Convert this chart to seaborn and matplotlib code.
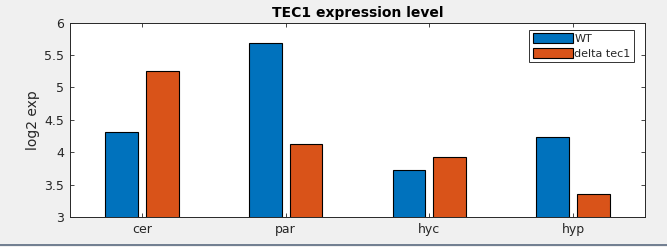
import matplotlib
matplotlib.use("Agg")
import matplotlib.pyplot as plt
import seaborn as sns
import pandas as pd
from matplotlib.lines import Line2D

categories = ["cer", "par", "hyc", "hyp"]
series_names = ["WT", "delta tec1"]
wt_values = [4.32, 5.69, 3.72, 4.23]
delta_values = [5.26, 4.12, 3.92, 3.35]
y_ticks = [3, 3.5, 4, 4.5, 5, 5.5, 6]
y_tick_labels = ["3", "3.5", "4", "4.5", "5", "5.5", "6"]

df = pd.DataFrame({
    "cat": categories * 2,
    "series": [series_names[0]] * 4 + [series_names[1]] * 4,
    "val": wt_values + delta_values,
})

sns.set_theme(style="white")
plt.rcParams["font.family"] = ["DejaVu Sans"]

fig = plt.figure(figsize=(6.67, 2.47), dpi=100, facecolor="#f0f0f0")
ax = fig.add_axes([70 / 667, 1 - 217 / 247, 575 / 667, (217 - 22.7) / 247])
ax.set_facecolor("white")

sns.barplot(data=df, x="cat", y="val", hue="series", order=categories,
            hue_order=series_names, palette=["#0072BD", "#D95319"],
            width=0.57, gap=0.2, edgecolor="black", linewidth=0.8,
            saturation=1, ax=ax, errorbar=None)

ax.set_xlim(-0.5, 3.5)
ax.set_ylim(3, 6)
ax.set_yticks(y_ticks)
ax.set_yticklabels(y_tick_labels)
ax.set_xlabel("")
ax.set_ylabel("log2 exp", fontsize=10, color="#262626", labelpad=3)
ax.set_title("TEC1 expression level", fontsize=10, fontweight="bold", pad=4,
             color="black")
ax.tick_params(axis="both", direction="in", length=3, width=0.6,
               labelsize=9, colors="#262626", top=True, right=True,
               bottom=True, left=True, pad=4)
for s in ax.spines.values():
    s.set_color("#262626")
    s.set_linewidth(0.7)

leg = ax.legend(loc="upper right", bbox_to_anchor=(0.981, 0.9625), fontsize=8,
                frameon=True, fancybox=False, edgecolor="black",
                handlelength=3.6, handleheight=1.0, handletextpad=0.15,
                borderpad=0.3, labelspacing=0.35, borderaxespad=0)
leg.get_frame().set_linewidth(0.7)

fig.add_artist(Line2D([0, 1], [2.5 / 247, 2.5 / 247], transform=fig.transFigure,
                      color="#5a6a80", linewidth=1.2))

fig.savefig("out.png", dpi=100, facecolor=fig.get_facecolor())
